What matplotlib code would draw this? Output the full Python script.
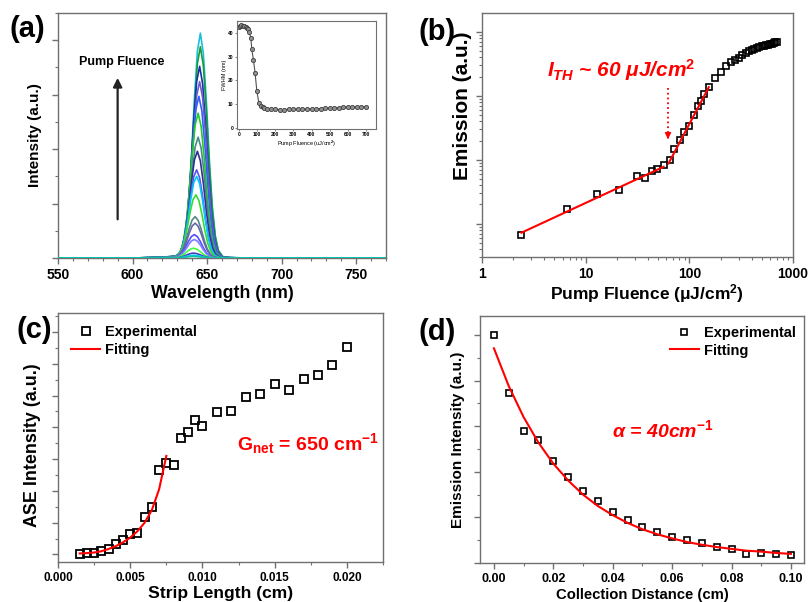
import numpy as np
import matplotlib
matplotlib.use('Agg')
import matplotlib.pyplot as plt
from matplotlib.ticker import MultipleLocator, NullFormatter, LogLocator

plt.rcParams['font.family'] = ['Liberation Sans', 'DejaVu Sans']
plt.rcParams['font.weight'] = 'bold'
plt.rcParams['mathtext.fontset'] = 'custom'
plt.rcParams['mathtext.rm'] = 'Liberation Sans:bold'
plt.rcParams['mathtext.it'] = 'Liberation Sans:italic:bold'
plt.rcParams['mathtext.bf'] = 'Liberation Sans:bold'

#%% data (a): emission spectra for increasing pump fluence
peak_heights = [4.13, 3.88, 3.52, 3.24, 2.97, 2.66, 2.22, 1.96, 1.62, 1.50,
                1.16, 0.76, 0.64, 0.43, 0.34, 0.18, 0.09, 0.05, 0.03]
peak_centers = [645.5, 645.5, 645.0, 645.0, 644.5, 644.0, 644.0, 643.5, 643.0, 643.0,
                642.5, 642.0, 642.0, 641.5, 641.5, 641.0, 641.0, 641.0, 641.0]
line_colors = ['#19c0d8', '#1a9a3a', '#1c2fa8', '#6a5acd', '#3060ff', '#22cc22',
               '#4a8a8a', '#303090', '#5555ee', '#00c8ff', '#33dd33', '#558888',
               '#6666aa', '#5050ff', '#8080ff', '#40ff40', '#4040c0', '#00d0ff',
               '#10c0a0']
# relative line shape (offset from peak in nm)
shape_offsets = [-95, -45, -35, -25, -18, -15, -12, -10, -8, -6, -4, -2, 0,
                 2, 4, 6, 8, 10, 12, 15, 20, 30, 130]
shape_values = [0, 0, 0.002, 0.004, 0.008, 0.012, 0.04, 0.11, 0.24, 0.45, 0.71, 0.92, 1.0,
                0.91, 0.70, 0.44, 0.23, 0.10, 0.035, 0.006, 0.002, 0, 0]

#%% data (b) + inset
fluence = [2.4, 6.6, 12.9, 21, 31, 37, 43.5, 49, 56.5, 65.5, 71.5, 80.5, 89.5, 99,
           110, 120, 131, 140, 154, 175, 200, 225, 250, 275, 300, 325, 350, 375,
           400, 425, 450, 475, 500, 525, 550, 575, 600, 625, 650, 675, 700]
emission = [6.7, 16.8, 28.9, 33.4, 55, 52, 65.6, 71, 82, 99, 147, 204, 269, 338,
            503, 697, 834, 1075, 1367, 1920, 2330, 2900, 3350, 3650, 3980, 4380, 4750, 4970,
            5260, 5470, 5640, 5790, 5950, 6090, 6210, 6310, 6430, 6550, 6700, 6880, 6980]
fwhm = [42.5, 43, 43.2, 43, 43, 42.5, 42, 41.5, 40.5, 38, 33, 28.5, 23, 15.5,
        10.5, 9.3, 8.6, 8.3, 8.0, 7.9, 7.8, 7.7, 7.7, 7.8, 7.8, 7.8, 7.9, 7.9,
        8.0, 8.0, 8.1, 8.2, 8.3, 8.4, 8.5, 8.6, 8.7, 8.8, 8.9, 8.9, 8.9]
fit_low_F = [2.4, 56.5]
fit_low_E = [7.2, 77.6]
fit_high_F = [63, 154]
fit_high_E = [87.5, 1368]
threshold = 62.3

#%% data (c)
strip_len = [0.0015, 0.002, 0.0025, 0.003, 0.0035, 0.004, 0.0045, 0.005, 0.0055,
             0.006, 0.0065, 0.007, 0.0075, 0.008, 0.0085, 0.009, 0.0095, 0.010,
             0.011, 0.012, 0.013, 0.014, 0.015, 0.016, 0.017, 0.018, 0.019, 0.020]
ase_int = [0.02, 0.04, 0.05, 0.10, 0.18, 0.32, 0.46, 0.63, 0.67, 1.18, 1.49, 2.67,
           2.88, 2.83, 3.65, 3.86, 4.23, 4.05, 4.47, 4.53, 4.96, 5.04, 5.36, 5.18,
           5.52, 5.65, 5.97, 6.52]
fit_c_x = [0.0015, 0.002, 0.0025, 0.003, 0.0035, 0.004, 0.0045, 0.005, 0.0055,
           0.006, 0.0065, 0.007, 0.0075]
fit_c_y = [0.03, 0.04, 0.06, 0.10, 0.17, 0.26, 0.38, 0.53, 0.73, 1.00, 1.40, 2.05, 3.10]

#%% data (d)
dist = [0.000, 0.005, 0.010, 0.015, 0.020, 0.025, 0.030, 0.035, 0.040, 0.045, 0.050,
        0.055, 0.060, 0.065, 0.070, 0.075, 0.080, 0.085, 0.090, 0.095, 0.100]
em_int = [5.0, 3.74, 2.90, 2.70, 2.24, 1.88, 1.59, 1.36, 1.12, 0.95, 0.80,
          0.67, 0.57, 0.51, 0.44, 0.36, 0.31, 0.20, 0.22, 0.20, 0.18]
fit_d_y = [4.71, 3.88, 3.20, 2.64, 2.18, 1.81, 1.50, 1.25, 1.05, 0.88, 0.74,
           0.63, 0.54, 0.46, 0.40, 0.35, 0.31, 0.27, 0.25, 0.22, 0.20]

#%% helpers
SPINE = '#707070'

def style_axes(ax, lab_size):
  for s in ax.spines.values():
    s.set_color(SPINE)
    s.set_linewidth(1.0)
  ax.tick_params(which='both', direction='out', color=SPINE, top=False, right=False,
                 labelsize=lab_size, pad=3)
  ax.tick_params(which='major', length=4, width=1)
  ax.tick_params(which='minor', length=2, width=0.8)
  for t in ax.get_xticklabels():
    t.set_fontweight('bold')

sq = dict(marker='s', mfc='none', mec='black', ls='none')

fig = plt.figure(figsize=(8.09, 6.02), dpi=100)

#%% (a)
axA = fig.add_axes([0.0717, 0.5714, 0.4054, 0.4070])
for h, c, col in zip(peak_heights, peak_centers, line_colors):
  axA.plot(np.array(shape_offsets) + c, h * np.array(shape_values), color=col, lw=1.2, zorder=3)
axA.set_xlim(550, 770)
axA.set_ylim(0, 4.5)
axA.xaxis.set_major_locator(MultipleLocator(50))
axA.xaxis.set_minor_locator(MultipleLocator(10))
axA.yaxis.set_major_locator(MultipleLocator(1))
axA.yaxis.set_minor_locator(MultipleLocator(0.5))
axA.yaxis.set_major_formatter(NullFormatter())
style_axes(axA, 10)
axA.set_xlabel('Wavelength (nm)', fontsize=12.8, fontweight='bold', va='center')
axA.xaxis.set_label_coords(0.5, -0.143)
axA.set_ylabel('Intensity (a.u.)', fontsize=11, fontweight='bold', va='center')
axA.yaxis.set_label_coords(-0.07, 0.5)
axA.annotate('', xy=(590, 3.36), xytext=(590, 0.66),
             arrowprops=dict(arrowstyle='-|>', color='#222222', lw=1.6, mutation_scale=13))
axA.text(592.5, 3.6, 'Pump Fluence', fontsize=9, fontweight='bold', ha='center', va='center')

# inset
axI = fig.add_axes([0.293, 0.7857, 0.1718, 0.1794])
axI.plot(fluence, fwhm, '-o', color='#505050', lw=0.8, ms=3, mfc='#909090', mec='#404040', mew=0.6)
axI.set_xlim(-10, 755)
axI.set_ylim(-0.5, 45)
axI.xaxis.set_major_locator(MultipleLocator(100))
axI.yaxis.set_major_locator(MultipleLocator(10))
for s in axI.spines.values():
  s.set_color(SPINE)
  s.set_linewidth(0.8)
axI.tick_params(direction='out', length=1.5, width=0.6, labelsize=3.5, pad=1, color=SPINE)
axI.set_xlabel('Pump Fluence (uJ/cm$^2$)', fontsize=4, labelpad=1)
axI.set_ylabel('FWHM (nm)', fontsize=4, labelpad=1)

#%% (b)
axB = fig.add_axes([0.5958, 0.5731, 0.3844, 0.4053])
axB.set_xscale('log')
axB.set_yscale('log')
axB.plot(fit_low_F, fit_low_E, color='red', lw=1.5, zorder=3)
axB.plot(fit_high_F, fit_high_E, color='red', lw=1.5, zorder=3)
axB.plot(fluence, emission, ms=5, mew=1.2, zorder=2, **sq)
axB.plot([threshold, threshold], [1320, 240], ls=':', color='red', lw=1.3)
axB.annotate('', xy=(threshold, 190), xytext=(threshold, 250),
             arrowprops=dict(arrowstyle='-|>', color='red', lw=1.0, mutation_scale=9))
axB.text(4.24, 2570, r'$I_{TH}$ ~ 60 μJ/cm$^2$', color='red', fontsize=15,
         fontweight='bold', fontstyle='italic', ha='left', va='center')
axB.set_xlim(1, 1000)
axB.set_ylim(3.0, 1.99e4)
axB.yaxis.set_major_locator(LogLocator(base=10, numticks=10))
axB.yaxis.set_minor_locator(LogLocator(base=10, subs=np.arange(2, 10), numticks=10))
axB.yaxis.set_major_formatter(NullFormatter())
axB.yaxis.set_minor_formatter(NullFormatter())
axB.xaxis.set_minor_formatter(NullFormatter())
axB.set_xticks([1, 10, 100, 1000], ['1', '10', '100', '1000'])
style_axes(axB, 10)
axB.set_xlabel('Pump Fluence (μJ/cm$^2$)', fontsize=12.5, fontweight='bold', va='center')
axB.xaxis.set_label_coords(0.53, -0.148)
axB.set_ylabel('Emission (a.u.)', fontsize=15, fontweight='bold', va='center')
axB.yaxis.set_label_coords(-0.064, 0.62)

#%% (c)
axC = fig.add_axes([0.0717, 0.0664, 0.4017, 0.4136])
axC.plot(strip_len, ase_int, ms=6, mew=1.3, label='Experimental', **sq)
axC.plot(fit_c_x, fit_c_y, color='red', lw=1.5, label='Fitting')
axC.set_xlim(0, 0.0225)
axC.set_ylim(-0.24, 7.6)
axC.xaxis.set_major_locator(MultipleLocator(0.005))
axC.xaxis.set_minor_locator(MultipleLocator(0.0025))
axC.yaxis.set_major_locator(MultipleLocator(1))
axC.yaxis.set_minor_locator(MultipleLocator(0.5))
axC.yaxis.set_major_formatter(NullFormatter())
axC.xaxis.set_major_formatter(plt.FuncFormatter(lambda v, p: '%.3f' % v))
style_axes(axC, 8.5)
axC.set_xlabel('Strip Length (cm)', fontsize=12.6, fontweight='bold', va='center')
axC.xaxis.set_label_coords(0.5, -0.125)
axC.set_ylabel('ASE Intensity (a.u.)', fontsize=12.9, fontweight='bold', va='center')
axC.yaxis.set_label_coords(-0.077, 0.47)
axC.text(0.01236, 3.5, r'G$_{\mathrm{net}}$ = 650 cm$^{\mathrm{-1}}$', color='red',
         fontsize=14, fontweight='bold', ha='left', va='center')
axC.legend(loc='upper left', bbox_to_anchor=(0.04, 0.95), frameon=False, fontsize=10.5,
           handlelength=2.0, handletextpad=0.35, labelspacing=0.25, borderpad=0,
           borderaxespad=0)

#%% (d)
axD = fig.add_axes([0.5933, 0.0648, 0.4005, 0.4103])
axD.plot(dist, em_int, ms=5, mew=1.2, label='Experimental', **sq)
axD.plot(dist, fit_d_y, color='red', lw=1.5, label='Fitting')
axD.set_xlim(-0.0047, 0.1044)
axD.set_ylim(0, 5.42)
axD.xaxis.set_major_locator(MultipleLocator(0.02))
axD.xaxis.set_minor_locator(MultipleLocator(0.01))
axD.yaxis.set_major_locator(MultipleLocator(1))
axD.yaxis.set_minor_locator(MultipleLocator(0.5))
axD.yaxis.set_major_formatter(NullFormatter())
axD.xaxis.set_major_formatter(plt.FuncFormatter(lambda v, p: '%.2f' % v))
style_axes(axD, 9)
axD.set_xlabel('Collection Distance (cm)', fontsize=10.7, fontweight='bold', va='center')
axD.xaxis.set_label_coords(0.5, -0.13)
axD.set_ylabel('Emission Intensity (a.u.)', fontsize=11, fontweight='bold', va='center')
axD.yaxis.set_label_coords(-0.068, 0.5)
axD.text(0.0397, 2.92, r'$\alpha$ = 40cm$^{\mathrm{-1}}$', color='red', fontsize=14,
         fontweight='bold', fontstyle='italic', ha='left', va='center')
axD.legend(loc='upper right', bbox_to_anchor=(0.975, 0.96), frameon=False, fontsize=10.5,
           handlelength=2.0, handletextpad=0.35, labelspacing=0.25, borderpad=0,
           borderaxespad=0)

#%% panel letters
for lab, x, y in [('(a)', 27, 29), ('(b)', 437, 32), ('(c)', 34, 330), ('(d)', 437, 332)]:
  fig.text(x / 809, 1 - y / 602, lab, fontsize=21, fontweight='bold', ha='center', va='center')

fig.savefig('out.png', dpi=100)
